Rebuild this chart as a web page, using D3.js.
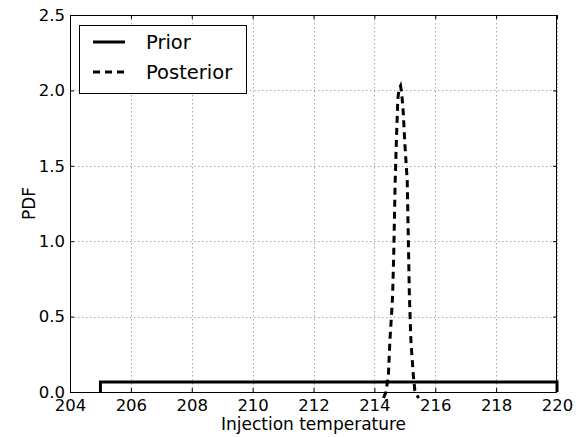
<!DOCTYPE html>
<html>
<head>
<meta charset="utf-8">
<script src="https://cdn.jsdelivr.net/npm/d3@7"></script>
<style>
  html, body { margin: 0; padding: 0; background: #fff; }
  svg { display: block; font-family: "DejaVu Sans", sans-serif; }
</style>
</head>
<body>
<svg id="chart" width="578" height="437"></svg>
<script>
// ---- data ----
const xTicks = [204, 206, 208, 210, 212, 214, 216, 218, 220];
const yTicks = [0.0, 0.5, 1.0, 1.5, 2.0, 2.5];

// Prior: uniform PDF on [205, 220]
const priorX = [205, 205, 220, 220];
const priorY = [0, 0.0667, 0.0667, 0];

// Posterior: narrow peaked PDF near 214.86
const postX = [214.30, 214.38, 214.46, 214.51, 214.56, 214.60, 214.64, 214.68, 214.72, 214.77, 214.81, 214.86, 214.90, 214.95, 215.00, 215.08, 215.15, 215.20, 215.28, 215.33, 215.45];
const postY = [-0.04, 0.00, 0.11, 0.34, 0.50, 0.64, 0.95, 1.37, 1.65, 1.94, 2.01, 2.03, 1.98, 1.85, 1.65, 1.40, 0.64, 0.34, 0.11, 0.01, -0.04];

const seriesNames = ["Prior", "Posterior"];
const xLabel = "Injection temperature";
const yLabel = "PDF";

// ---- layout ----
const L = 70, R = 557, T = 15, B = 392;
const svg = d3.select("#chart");
const x = d3.scaleLinear().domain([204, 220]).range([L, R]);
const y = d3.scaleLinear().domain([0, 2.5]).range([B, T]);

// grid
const grid = svg.append("g").attr("stroke", "#a8a8a8").attr("stroke-width", 1).attr("stroke-dasharray", "1.5,2.5");
grid.selectAll("line.gx").data(xTicks).join("line")
  .attr("x1", d => Math.round(x(d)) + 0.5).attr("x2", d => Math.round(x(d)) + 0.5)
  .attr("y1", T).attr("y2", B);
grid.selectAll("line.gy").data(yTicks).join("line")
  .attr("y1", d => Math.round(y(d)) + 0.5).attr("y2", d => Math.round(y(d)) + 0.5)
  .attr("x1", L).attr("x2", R);

// lines
const line = d3.line().x(d => x(d[0])).y(d => y(d[1]));
svg.append("path")
  .datum(priorX.map((v, i) => [v, priorY[i]]))
  .attr("d", line).attr("fill", "none").attr("stroke", "#000").attr("stroke-width", 3)
  .attr("stroke-linejoin", "miter");
svg.append("path")
  .datum(postX.map((v, i) => [v, postY[i]]))
  .attr("d", line).attr("fill", "none").attr("stroke", "#000").attr("stroke-width", 3)
  .attr("stroke-dasharray", "7,5");

// axes (ticks pointing inward on all four sides)
const fs = "16.5px";
const xAxis = svg.append("g").attr("transform", `translate(0,${B})`)
  .call(d3.axisBottom(x).tickValues(xTicks).tickSize(-4).tickPadding(7).tickFormat(d3.format("d")));
const yAxis = svg.append("g").attr("transform", `translate(${L},0)`)
  .call(d3.axisLeft(y).tickValues(yTicks).tickSize(-4).tickPadding(5).tickFormat(d3.format(".1f")));
const xTop = svg.append("g").attr("transform", `translate(0,${T})`)
  .call(d3.axisTop(x).tickValues(xTicks).tickSize(-4).tickFormat(""));
const yRight = svg.append("g").attr("transform", `translate(${R},0)`)
  .call(d3.axisRight(y).tickValues(yTicks).tickSize(-4).tickFormat(""));
[xAxis, yAxis, xTop, yRight].forEach(g => {
  g.select(".domain").remove();
  g.selectAll("line").attr("stroke", "#000");
  g.selectAll("text").attr("fill", "#000").style("font-size", fs).style("font-family", "DejaVu Sans");
});

// frame
svg.append("rect").attr("x", L + 0.5).attr("y", T + 0.5).attr("width", R - L - 1).attr("height", B - T)
  .attr("fill", "none").attr("stroke", "#000").attr("stroke-width", 1);

// axis labels
svg.append("text").attr("x", (L + R) / 2).attr("y", 430).attr("text-anchor", "middle")
  .style("font-size", "17px").text(xLabel);
svg.append("text").attr("transform", `translate(35,${(T + B) / 2}) rotate(-90)`).attr("text-anchor", "middle")
  .style("font-size", "17px").text(yLabel);

// legend
const lg = svg.append("g");
lg.append("rect").attr("x", 79.5).attr("y", 25.5).attr("width", 167).attr("height", 68)
  .attr("fill", "#fff").attr("stroke", "#000").attr("stroke-width", 1);
const legendDash = [null, "7,5"];
seriesNames.forEach((n, i) => {
  const yy = 42 + i * 30;
  lg.append("line").attr("x1", 93).attr("x2", 125).attr("y1", yy).attr("y2", yy)
    .attr("stroke", "#000").attr("stroke-width", 3).attr("stroke-dasharray", legendDash[i]);
  lg.append("text").attr("x", 146).attr("y", yy).attr("dy", "0.35em")
    .style("font-size", "19.5px").text(n);
});
</script>
</body>
</html>
